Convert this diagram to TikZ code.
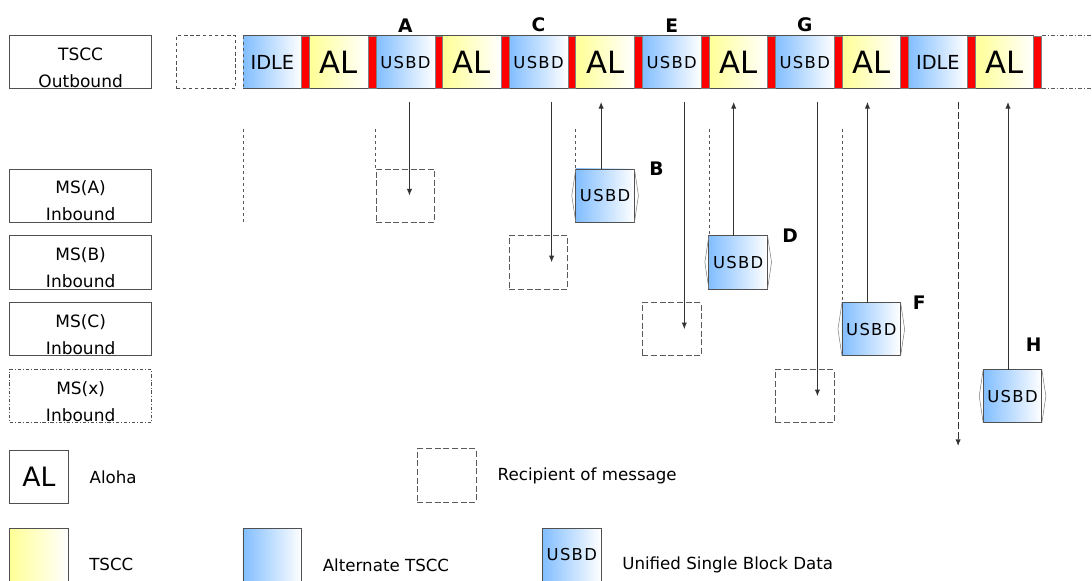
\documentclass[tikz,border=0pt]{standalone}
\usepackage{fontspec}
\setmainfont{DejaVu Sans}
\newfontfamily\usbdfont[LetterSpace=8]{DejaVu Sans}
\usepackage{tikz}
\usetikzlibrary{positioning, calc, arrows.meta}
\definecolor{altblue}{RGB}{130,190,255}
\definecolor{tsccyel}{RGB}{255,255,150}
\definecolor{slotline}{RGB}{80,80,80}
\definecolor{guidegray}{RGB}{90,90,90}

\begin{document}
\begin{tikzpicture}[x=0.75pt, y=-0.75pt,
    slot/.style={minimum width=44pt, minimum height=39.6pt, inner sep=0pt, outer sep=0pt},
    blueslot/.style={slot, left color=altblue, middle color=altblue!35!white, right color=white},
    yelslot/.style={slot, left color=tsccyel, middle color=tsccyel!40!white, right color=white},
    idle/.style={blueslot, font=\fontsize{14.5}{14.5}\selectfont},
    al/.style={yelslot, font=\fontsize{23}{23}\selectfont},
    usbd/.style={blueslot, font=\usbdfont\fontsize{12.3}{14}\selectfont},
    redbar/.style={minimum width=5.9pt, minimum height=39.6pt, inner sep=0pt, outer sep=0pt,
        fill=red, draw=gray, line width=0.4pt},
    lblbox/.style={draw=slotline, line width=0.6pt, minimum width=106.3pt, minimum height=40pt, inner sep=0pt},
    boxtxt/.style={align=center, font=\fontsize{12.75}{20}\selectfont, inner sep=0pt},
    gapbox/.style={draw=slotline, line width=0.6pt, dash pattern=on 2.6pt off 2pt,
        minimum width=44pt, minimum height=40pt, inner sep=0pt},
    rcpt/.style={draw=guidegray, line width=0.6pt, dash pattern=on 4.5pt off 2pt,
        minimum width=44pt, minimum height=40pt, inner sep=0pt},
    usbdbox/.style={usbd, draw=slotline, line width=0.6pt, minimum height=40pt},
    brk/.style={draw=gray, line width=0.4pt},
    msg/.style={draw=black!80, line width=0.7pt, -{Latex[length=5pt,width=4pt]}},
    idlemsg/.style={msg, dash pattern=on 5pt off 2.5pt},
    guide/.style={draw=guidegray, line width=0.5pt, dash pattern=on 2.5pt off 2pt},
    dashdot/.style={draw=guidegray, line width=0.5pt, dash pattern=on 3pt off 1.5pt on 0.8pt off 1.5pt},
    tag/.style={font=\bfseries\fontsize{14}{14}\selectfont, inner sep=0pt},
    legbox/.style={draw=slotline, line width=0.6pt, minimum width=44pt, minimum height=40pt, inner sep=0pt},
    legtxt/.style={font=\fontsize{12.5}{15}\selectfont, inner sep=0pt, anchor=west}]
\useasboundingbox (0,0) rectangle (1092,581);
\coordinate (edge) at (1092,0);

% outbound channel
\foreach \sty/\txt [count=\i from 0] in {idle/IDLE, al/AL, usbd/USBD, al/AL, usbd/USBD, al/AL,
        usbd/USBD, al/AL, usbd/USBD, al/AL, idle/IDLE, al/AL}
    \node[\sty] (s\i) at ({272.35+66.55*\i},62.2) {\txt};
\draw[slotline, line width=0.6pt] (s0.north west) -- (s11.north east) (s0.south west) -- (s11.south east);
\foreach \i in {0,...,11}
    \node[redbar, right=0pt of s\i] (r\i) {};
\draw[guide] (s0.north west) -- (s0.south west);
\draw[dashdot] (r11.north east) -- (r11.north east -| edge);
\draw[dashdot] (r11.south east) -- (r11.south east -| edge);

\node[tag, above=2.5pt of s2] {A};
\node[tag, above=2.5pt of s4] {C};
\node[tag, above=2.5pt of s6] {E};
\node[tag, above=2.5pt of s8] {G};

% row labels
\node[lblbox] (msOut) at (80.65,62.2) {};
\node[boxtxt] at ([yshift=-4pt]msOut.center) {TSCC\\Outbound};
\node[gapbox] (gap) at (205.7,62.2) {};
\node[lblbox] (msA) at (80.65,195.6) {};
\node[boxtxt] at ([yshift=-4pt]msA.center) {MS(A)\\Inbound};
\node[lblbox] (msB) at (80.65,262.4) {};
\node[boxtxt] at ([yshift=-4pt]msB.center) {MS(B)\\Inbound};
\node[lblbox] (msC) at (80.65,329.2) {};
\node[boxtxt] at ([yshift=-4pt]msC.center) {MS(C)\\Inbound};
\node[lblbox, dash pattern=on 2.5pt off 1.5pt on 0.6pt off 1.5pt] (msX) at (80.65,396.2) {};
\node[boxtxt] at ([yshift=-4pt]msX.center) {MS(x)\\Inbound};

% recipients and replies
\node[rcpt] (rcA) at (s2 |- msA) {};
\node[rcpt] (rcB) at (s4 |- msB) {};
\node[rcpt] (rcC) at (s6 |- msC) {};
\node[rcpt] (rcX) at (s8 |- msX) {};
\node[usbdbox] (usB) at (s5 |- msA) {USBD};
\node[usbdbox] (usD) at (s7 |- msB) {USBD};
\node[usbdbox] (usF) at (s9 |- msC) {USBD};
\node[usbdbox] (usH) at ([xshift=6.1pt]s11 |- msX) {USBD};
\foreach \u in {usB,usD,usF,usH}
    \draw[brk] (\u.north west) -- ([xshift=-3pt]\u.west) -- (\u.south west)
        (\u.north east) -- ([xshift=3pt]\u.east) -- (\u.south east);
\node[tag, right=11pt of usB.north east] {B};
\node[tag, right=11pt of usD.north east] {D};
\node[tag, right=9pt of usF.north east] {F};
\node[tag, above left=13pt and 0pt of usH.north east] {H};

\coordinate (tA) at ([xshift=3pt, yshift=-10pt]s2.south);
\coordinate (tC) at ([xshift=9.8pt, yshift=-10pt]s4.south);
\coordinate (tE) at ([xshift=9.5pt, yshift=-10pt]s6.south);
\coordinate (tG) at ([xshift=9.5pt, yshift=-10pt]s8.south);
\coordinate (tB) at ([xshift=-3pt, yshift=-10pt]s5.south);
\coordinate (tD) at ([xshift=-3.4pt, yshift=-10pt]s7.south);
\coordinate (tF) at ([xshift=-2.9pt, yshift=-10pt]s9.south);
\coordinate (tH) at ([xshift=2.7pt, yshift=-10pt]s11.south);
\coordinate (tI) at ([xshift=15.2pt, yshift=-10pt]s10.south);
\coordinate (eI) at (tI |- 0,446);
\draw[msg] (tA) -- (tA |- rcA.center);
\draw[msg] (tC) -- (tC |- rcB.center);
\draw[msg] (tE) -- (tE |- rcC.center);
\draw[msg] (tG) -- (tG |- rcX.center);
\draw[msg] (tB |- usB.north) -- (tB);
\draw[msg] (tD |- usD.north) -- (tD);
\draw[msg] (tF |- usF.north) -- (tF);
\draw[msg] (tH |- usH.north) -- (tH);
\draw[idlemsg] (tI) -- (eI);

\coordinate (gtop) at ([yshift=-30pt]s0.south west);
\draw[guide] (gtop) -- (gtop |- msA.south);
\foreach \b in {rcA,usB,usD,usF}
    \draw[guide] (\b.north west |- gtop) -- (\b.north west);

% legend
\node[legbox, font=\fontsize{20}{20}\selectfont] (lgAL) at (39,476.8) {AL};
\node[legtxt] at ([xshift=15.5pt]lgAL.east) {Aloha};
\node[rcpt] (lgRc) at (446.8,475.5) {};
\node[legtxt] at ([xshift=15.7pt]lgRc.east) {Recipient of message};
\node[yelslot, draw=slotline, line width=0.6pt, minimum height=40pt] (lgTS) at (39,554.8) {};
\node[legtxt] at ([xshift=15.5pt, yshift=-7.5pt]lgTS.east) {TSCC};
\node[blueslot, draw=slotline, line width=0.6pt, minimum height=40pt] (lgAlt) at (272.3,554.8) {};
\node[legtxt] at ([xshift=15.7pt, yshift=-7.5pt]lgAlt.east) {Alternate TSCC};
\node[usbdbox] (lgUs) at (571.8,554.8) {USBD};
\node[legtxt] at ([xshift=15.7pt, yshift=-7.5pt]lgUs.east) {Unified Single Block Data};
\end{tikzpicture}
\end{document}
